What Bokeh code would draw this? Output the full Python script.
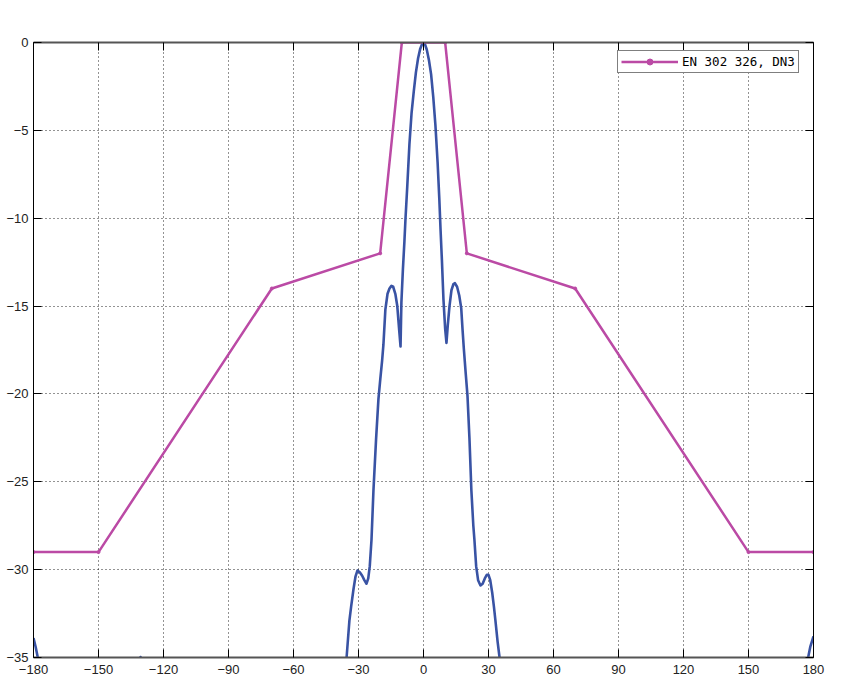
from bokeh.plotting import figure
from bokeh.models import (FixedTicker, LinearAxis, Legend, LegendItem)
from bokeh.embed import file_html
from bokeh.resources import INLINE

# ---- data ----
x_ticks = [-180, -150, -120, -90, -60, -30, 0, 30, 60, 90, 120, 150, 180]
x_tick_labels = ["\u2212180", "\u2212150", "\u2212120", "\u221290", "\u221260", "\u221230",
                 "0", "30", "60", "90", "120", "150", "180"]
y_ticks = [-35, -30, -25, -20, -15, -10, -5, 0]
y_tick_labels = ["\u221235", "\u221230", "\u221225", "\u221220", "\u221215", "\u221210", "\u22125", "0"]

mask_angle = [-180, -150, -70, -20, -10, 10, 20, 70, 150, 180]
mask_db = [-29, -29, -14, -12, 0, 0, -12, -14, -29, -29]
mask_label = "EN 302 326, DN3"

pattern_angle = [
    -180.0, -179.0, -177.7, -176.0, -160.0, -140.0, -132.0, -130.6, -129.2, -120.0,
    -90.0, -60.0, -45.0, -38.0, -36.5, -35.5, -34.2, -33.4, -32.3, -31.4,
    -30.5, -29.4, -28.3, -27.3, -26.3, -25.5, -24.8, -24.0, -23.1, -21.9,
    -20.8, -19.9, -19.1, -18.5, -17.6, -16.6, -15.7, -14.8, -14.0, -13.0,
    -12.1, -11.2, -10.6, -10.2, -9.5, -8.8, -8.3, -7.5, -6.5, -5.5,
    -4.5, -3.5, -2.5, -1.5, -0.5, 0.0, 0.5, 1.5, 2.5, 3.5,
    4.5, 5.5, 6.5, 7.3, 7.85, 8.5, 9.2, 10.0, 10.6, 11.2,
    12.0, 12.9, 13.8, 14.5, 15.5, 16.5, 17.4, 18.0, 18.6, 19.4,
    20.3, 21.2, 22.1, 23.0, 23.5, 24.3, 25.2, 26.3, 27.3, 28.3,
    29.2, 30.0, 30.8, 31.7, 32.5, 33.2, 34.2, 35.1, 36.5, 38.0,
    45.0, 60.0, 90.0, 120.0, 150.0, 170.0, 176.0, 177.2, 178.5, 180.0,
]
pattern_db = [
    -33.9, -34.4, -35.2, -37.5, -42.0, -40.0, -35.6, -34.97, -35.6, -40.0,
    -42.0, -42.0, -40.0, -37.8, -36.3, -35.0, -32.9, -32.1, -31.1, -30.4,
    -30.05, -30.15, -30.35, -30.6, -30.8, -30.5, -29.8, -28.3, -25.5, -22.6,
    -20.3, -19.1, -18.1, -17.2, -15.2, -14.3, -14.0, -13.85, -13.9, -14.3,
    -15.0, -16.4, -17.3, -14.8, -12.9, -11.3, -10.0, -8.2, -5.8, -4.0,
    -2.8, -1.7, -0.9, -0.35, -0.04, 0.0, -0.04, -0.4, -1.0, -1.8,
    -3.1, -4.7, -6.8, -8.9, -10.6, -12.4, -14.6, -16.3, -17.1, -16.1,
    -15.0, -14.1, -13.75, -13.7, -13.9, -14.4, -15.1, -16.3, -17.4, -18.7,
    -20.1, -22.5, -25.5, -27.5, -28.3, -29.8, -30.6, -30.9, -30.8, -30.5,
    -30.3, -30.3, -30.6, -31.3, -32.1, -32.9, -34.1, -35.0, -37.0, -39.0,
    -41.0, -42.0, -42.0, -41.0, -42.0, -40.0, -37.5, -35.2, -34.4, -33.8,
]

# ---- style ----
MASK_COLOR = "#bb4aa5"
PAT_COLOR = "#3953a4"
TICK_FONT = "Liberation Sans"

p = figure(frame_width=780, frame_height=615, x_range=(-180, 180), y_range=(-35, 0),
           output_backend="svg", toolbar_location=None,
           min_border_left=33, min_border_top=42, min_border_right=20, min_border_bottom=28,
           background_fill_color="white", border_fill_color="white")
p.outline_line_color = None

# extra axes (top/right) with inward ticks and hidden labels
top_axis = LinearAxis()
right_axis = LinearAxis()
p.add_layout(top_axis, "above")
p.add_layout(right_axis, "right")

for ax in p.xaxis:
    ax.ticker = FixedTicker(ticks=x_ticks)
    ax.major_label_overrides = dict(zip(x_ticks, x_tick_labels))
for ax in p.yaxis:
    ax.ticker = FixedTicker(ticks=y_ticks)
    ax.major_label_overrides = dict(zip(y_ticks, y_tick_labels))

for ax in p.axis:
    ax.major_tick_in = 8
    ax.major_tick_out = 0
    ax.minor_tick_in = 0
    ax.minor_tick_out = 0
    ax.major_tick_line_color = "black"
    ax.major_tick_line_width = 1
    ax.major_label_text_font = TICK_FONT
    ax.major_label_text_font_size = "13px"
    ax.major_label_text_color = "#222222"

for ax in p.xaxis:
    ax.axis_line_color = "#555555"
    ax.axis_line_width = 2
for ax in p.yaxis:
    ax.axis_line_color = "black"
    ax.axis_line_width = 1

p.below[0].major_label_standoff = 7
p.left[0].major_label_standoff = 5
for ax in (top_axis, right_axis):
    ax.major_label_text_color = None
    ax.major_label_standoff = 0

p.xgrid.grid_line_color = "black"
p.ygrid.grid_line_color = "black"
p.xgrid.grid_line_dash = "1 3"
p.ygrid.grid_line_dash = "1 3"
p.xgrid.grid_line_width = 1
p.ygrid.grid_line_width = 1
p.xgrid.grid_line_alpha = 0.85
p.ygrid.grid_line_alpha = 0.85

# ---- glyphs ----
pat = p.line(pattern_angle, pattern_db, line_color=PAT_COLOR, line_width=2.6,
             line_join="round")
mask_line = p.line(mask_angle, mask_db, line_color=MASK_COLOR, line_width=2.5,
                   line_join="round")
mask_pts = p.scatter(mask_angle, mask_db, marker="circle", size=3,
                     fill_color=MASK_COLOR, line_color=MASK_COLOR)

legend = Legend(items=[LegendItem(label=mask_label, renderers=[mask_line, mask_pts])],
                location=(584, 584))
legend.border_line_color = "black"
legend.border_line_width = 1
legend.background_fill_color = "white"
legend.background_fill_alpha = 1
legend.label_text_font = "DejaVu Sans Mono"
legend.label_text_font_size = "12.5px"
legend.label_text_color = "black"
legend.padding = 3
legend.margin = 0
legend.spacing = 0
legend.glyph_width = 57
legend.glyph_height = 15
legend.label_height = 15
legend.label_standoff = 4
p.add_layout(legend)

open("out.html", "w").write(file_html(p, INLINE))
